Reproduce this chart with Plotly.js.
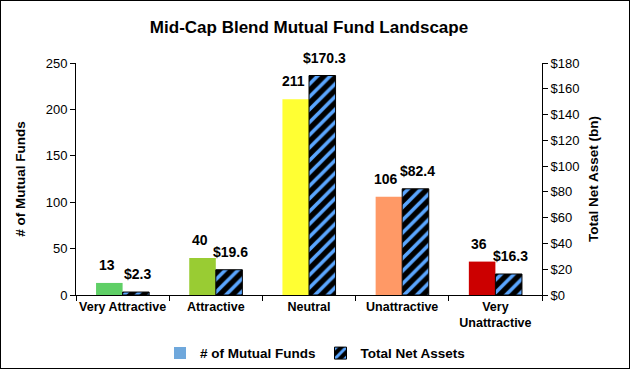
<!DOCTYPE html>
<html><head><meta charset="utf-8">
<script src="https://cdn.plot.ly/plotly-3.0.1.min.js"></script>
<style>
html,body{margin:0;padding:0;background:#fff;}
#wrap{width:630px;height:369px;box-sizing:border-box;border:1px solid #000;}
#chart{width:628px;height:367px;}
</style></head>
<body><div id="wrap"><div id="chart"></div></div>
<script>
const categories = ["Very Attractive", "Attractive", "Neutral", "Unattractive", "Very<br>Unattractive"];
const fundCounts = [13, 40, 211, 106, 36];
const netAssets = [2.3, 19.6, 170.3, 82.4, 16.3];
const fundColors = ["#5fcf66", "#99cc33", "#ffff33", "#ff9966", "#cc0000"];
const fundLabels = fundCounts.map(v => String(v));
const assetLabels = netAssets.map(v => "$" + v.toFixed(1));

const font = "Liberation Sans, Arial, sans-serif";
const labelFont = {family: font, size: 14, color: "#000", weight: "bold"};

const traces = [
  {type: "bar", x: [null], y: [null], name: "# of Mutual Funds", marker: {color: "#6fa8dc"}, hoverinfo: "skip"},
  {type: "bar", x: categories, y: fundCounts, name: "# of Mutual Funds", showlegend: false,
   offsetgroup: "a", yaxis: "y", marker: {color: fundColors}},
  {type: "bar", x: categories, y: netAssets, name: "Total Net Assets",
   offsetgroup: "b", yaxis: "y2",
   marker: {color: "#000", line: {color: "#000", width: 1},
            pattern: {shape: "/", bgcolor: "#000", fgcolor: "#5aa6ff", size: 9, solidity: 0.4}}}
];

const annotations = [];
categories.forEach((c, i) => {
  annotations.push({x: c, y: fundCounts[i], xref: "x", yref: "y", text: fundLabels[i], showarrow: false,
    xshift: -16, yshift: 8, yanchor: "bottom", font: labelFont});
  annotations.push({x: c, y: netAssets[i], xref: "x", yref: "y2", text: assetLabels[i], showarrow: false,
    xshift: 15, yshift: 8, yanchor: "bottom", font: labelFont});
});

const layout = {
  width: 628, height: 367,
  margin: {l: 75, r: 87, t: 62, b: 73},
  paper_bgcolor: "#fff", plot_bgcolor: "#fff",
  font: {family: font, size: 13, color: "#000"},
  title: {text: "<b>Mid-Cap Blend Mutual Fund Landscape</b>", x: 0.5, xref: "paper", y: 0.93, yanchor: "middle",
          font: {family: font, size: 17, color: "#000"}},
  barmode: "group", bargap: 0.43, bargroupgap: 0,
  showlegend: true,
  annotations: annotations,
  legend: {orientation: "h", x: 0.5, xanchor: "center", xref: "container", y: 0.04, yref: "container", yanchor: "middle",
           font: {family: font, size: 13.5, weight: "bold"}, itemwidth: 30, traceorder: "normal"},
  xaxis: {type: "category", showline: true, linecolor: "#000", linewidth: 1, tickangle: 0,
          ticks: "outside", ticklen: 5, tickcolor: "#000", tickson: "boundaries",
          tickfont: {family: font, size: 12.5, weight: "bold"}, showgrid: false, zeroline: false},
  yaxis: {range: [0, 250], dtick: 50, showline: true, linecolor: "#000", ticks: "outside", ticklen: 5,
          tickcolor: "#000", showgrid: false, zeroline: false, tickfont: {family: font, size: 13},
          title: {text: "<b># of Mutual Funds</b>", font: {family: font, size: 13.5}, standoff: 16}},
  yaxis2: {range: [0, 180], dtick: 20, overlaying: "y", side: "right", tickprefix: "$",
           showline: true, linecolor: "#000", ticks: "outside", ticklen: 5, tickcolor: "#000",
           showgrid: false, zeroline: false, tickfont: {family: font, size: 13},
           title: {text: "<b>Total Net Asset (bn)</b>", font: {family: font, size: 13.5}, standoff: 10}}
};

Plotly.newPlot("chart", traces, layout, {displayModeBar: false, staticPlot: true});
</script></body></html>
